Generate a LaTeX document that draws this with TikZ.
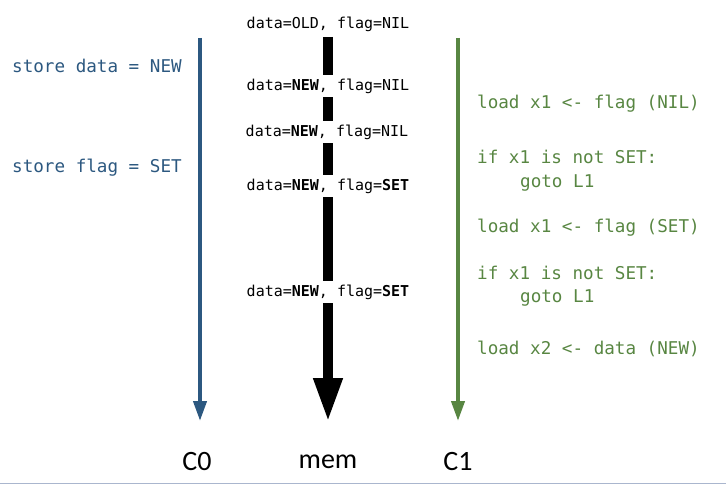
\documentclass[tikz,border=0pt]{standalone}
\usepackage{fontspec}
\setmonofont{DejaVu Sans Mono}
\setsansfont{Carlito}
\usetikzlibrary{arrows.meta}
\definecolor{coreblue}{RGB}{44,88,128}
\definecolor{coregreen}{RGB}{88,134,66}
\definecolor{edgegray}{RGB}{170,182,206}
\begin{document}
\begin{tikzpicture}[x=1pt, y=-1pt,
		code/.style={font=\fontsize{17.6}{20}\selectfont\ttfamily, inner sep=0pt, anchor=west},
		memstate/.style={font=\fontsize{15}{18}\selectfont\ttfamily, fill=white, inner sep=4pt},
		core/.style={font=\fontsize{28}{32}\selectfont\sffamily},
		thread/.style={line width=4pt, -{Triangle[width=13pt, length=20pt]}}]
			\useasboundingbox (0, 0) rectangle (726, 484);
			\draw[edgegray, line width=1.5pt] (0, 483.5) -- (726, 483.5);
			\coordinate (c0top) at (200, 38);
			\coordinate (c0end) at (200, 421);
			\coordinate (memtop) at (328, 37);
			\coordinate (memend) at (328, 422);
			\coordinate (c1top) at (458, 38);
			\coordinate (c1end) at (458, 421);
			\draw[thread, coreblue] (c0top) -- (c0end);
			\draw[thread, coregreen] (c1top) -- (c1end);
			\draw[line width=10pt, -{Triangle[width=27pt, length=44pt]}] (memtop) -- (memend);
			\node[memstate] (s0) at (328, 24) {data=OLD, flag=NIL};
			\node[memstate] (s1) at (328, 86) {data=\textbf{NEW}, flag=NIL};
			\node[memstate] (s2) at (327, 132) {data=\textbf{NEW}, flag=NIL};
			\node[memstate] (s3) at (328, 186) {data=\textbf{NEW}, flag=\textbf{SET}};
			\node[memstate] (s4) at (328, 292) {data=\textbf{NEW}, flag=\textbf{SET}};
			\node[code, coreblue] (st1) at (12, 66) {store data = NEW};
			\node[code, coreblue] (st2) at (12, 168) {store flag = SET};
			\node[code, coregreen] (ld1) at (477, 104) {load x1 <- flag (NIL)};
			\node[code, coregreen] (if1) at (477, 157) {if x1 is not SET:};
			\node[code, coregreen] (go1) at (520, 183) {goto L1};
			\node[code, coregreen] (ld2) at (477, 228) {load x1 <- flag (SET)};
			\node[code, coregreen] (if2) at (477, 273) {if x1 is not SET:};
			\node[code, coregreen] (go2) at (520, 298) {goto L1};
			\node[code, coregreen] (ld3) at (477, 349) {load x2 <- data (NEW)};
			\node[core] (c0) at (197, 462) {C0};
			\node[core] (mem) at (328, 462) {mem};
			\node[core] (c1) at (458, 462) {C1};
		\end{tikzpicture}
\end{document}
